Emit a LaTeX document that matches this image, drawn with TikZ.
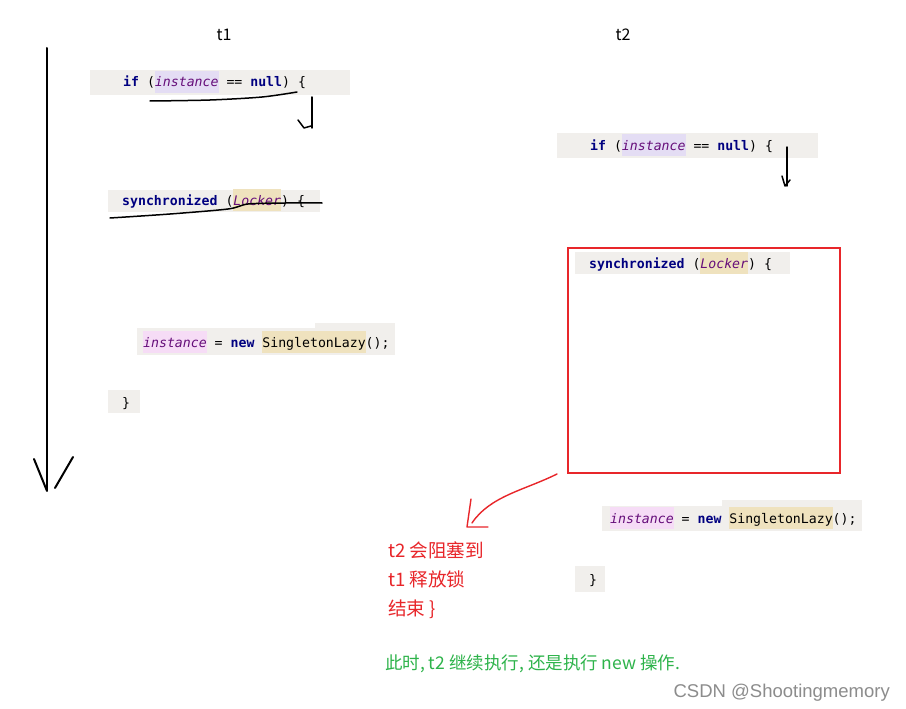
\documentclass[tikz,border=0pt]{standalone}
\usepackage{fontspec}
\setmainfont{Liberation Sans}
\newfontfamily\cjk{Noto Sans CJK SC}
\newfontfamily\codef{DejaVu Sans Mono}
\definecolor{codebg}{HTML}{F1EFEC}
\definecolor{kwc}{HTML}{000080}
\definecolor{varc}{HTML}{660E7A}
\definecolor{hlinst}{HTML}{E4DDF4}
\definecolor{hltan}{HTML}{EFE2BE}
\definecolor{hlpink}{HTML}{F6DCF6}
\definecolor{redc}{HTML}{E8262A}
\definecolor{greenc}{HTML}{2DB34A}
\newcommand\kwd[1]{\textcolor{kwc}{\bfseries #1}}
\newcommand\vard[1]{\textcolor{varc}{\itshape #1}}
\newcommand\hlbox[2]{{\setlength\fboxsep{0pt}\colorbox{#1}{\rule[-6pt]{0pt}{22pt}#2}}}
\tikzset{
  code/.style={anchor=base west, inner sep=0pt, font=\codef\fontsize{13.2}{15}\selectfont},
  codebgr/.style={fill=codebg},
  pen/.style={line width=1.5pt, line cap=round, line join=round, black},
  redpen/.style={line width=1.4pt, line cap=round, line join=round, redc},
  lbl/.style={anchor=base west, inner sep=0pt, font=\cjk\fontsize{16}{18}\selectfont},
  redtxt/.style={lbl, text=redc, font=\cjk\fontsize{18.6}{20}\selectfont},
  greentxt/.style={lbl, text=greenc, font=\cjk\fontsize{17.5}{20}\selectfont},
}
\begin{document}
\begin{tikzpicture}[x=1pt,y=-1pt]
\useasboundingbox (0,0) rectangle (906,709);
\fill[white] (0,0) rectangle (906,709);

% thread labels
\node[lbl, anchor=base] (t1) at (224,41) {t1};
\node[lbl, anchor=base] (t2) at (623,41) {t2};

% time arrow
\coordinate (ta) at (47,48);
\coordinate (tb) at (47,490);
\draw[pen, line width=2pt] (ta) -- (tb);
\draw[pen, line width=2pt] (34,459) -- (47,491);
\draw[pen, line width=2pt] (55,488) -- (73,457);

% ---- t1 column ----
\fill[codebgr] (90,70) rectangle (350,95);
\node[code] (a1) at (123,87) {\kwd{if} (\hlbox{hlinst}{\vard{instance}} == \kwd{null}) \{};
\draw[pen] plot[smooth] coordinates {(150,101) (210,100) (262,97) (297,92)};
\draw[pen] (312,97) -- (312,128);
\draw[pen] (298,120) -- (304,128) -- (311,126);

\fill[codebgr] (108,190) rectangle (320,212);
\node[code] (a2) at (122,205) {\kwd{synchronized} (\hlbox{hltan}{\vard{Locker}}) \{};
\draw[pen] plot[smooth] coordinates {(110,218) (170,214) (228,209) (248,204) (285,203) (322,203)};

\fill[codebgr] (137,328) rectangle (395,355);
\fill[codebgr] (315,323) rectangle (395,330);
\node[code] (a3) at (143,347) {\hlbox{hlpink}{\vard{instance}} = \kwd{new} \hlbox{hltan}{SingletonLazy}();};

\fill[codebgr] (108,390) rectangle (140,413);
\node[code] (a4) at (122,407) {\}};

% ---- t2 column ----
\fill[codebgr] (557,133) rectangle (818,158);
\node[code] (b1) at (590,150) {\kwd{if} (\hlbox{hlinst}{\vard{instance}} == \kwd{null}) \{};
\draw[pen] (787,147) -- (787,186);
\draw[pen] (782,176) -- (785,186) -- (790,180);

\node[draw=redc, line width=2pt, minimum width=272pt, minimum height=225pt, anchor=north west, inner sep=0pt] (lockbox) at (567,247) {};
\fill[codebgr] (575,252) rectangle (790,274);
\node[code] (b2) at (589,268) {\kwd{synchronized} (\hlbox{hltan}{\vard{Locker}}) \{};

\fill[codebgr] (602,506) rectangle (862,531);
\fill[codebgr] (722,500) rectangle (862,508);
\node[code] (b3) at (610,523) {\hlbox{hlpink}{\vard{instance}} = \kwd{new} \hlbox{hltan}{SingletonLazy}();};

\fill[codebgr] (575,566) rectangle (605,592);
\node[code] (b4) at (589,584) {\}};

% red annotation
\coordinate (ra) at (557,474);
\coordinate (rb) at (472,523);
\draw[redpen] (ra) .. controls (525,490) and (490,496) .. (rb);
\draw[redpen] (471,499) -- (467,527) -- (488,527);

\node[redtxt] (r1) at (388,557) {t2 会阻塞到};
\node[redtxt] (r2) at (388,586) {t1 释放锁};
\node[redtxt] (r3) at (388,615) {结束 \}};

\node[greentxt] (g1) at (385,669) {此时, t2 继续执行, 还是执行 new 操作.};

\node[anchor=base east, inner sep=0pt, text=black!45, font=\fontsize{18.5}{20}\selectfont] (wm) at (890,697) {CSDN @Shootingmemory};
\end{tikzpicture}
\end{document}
